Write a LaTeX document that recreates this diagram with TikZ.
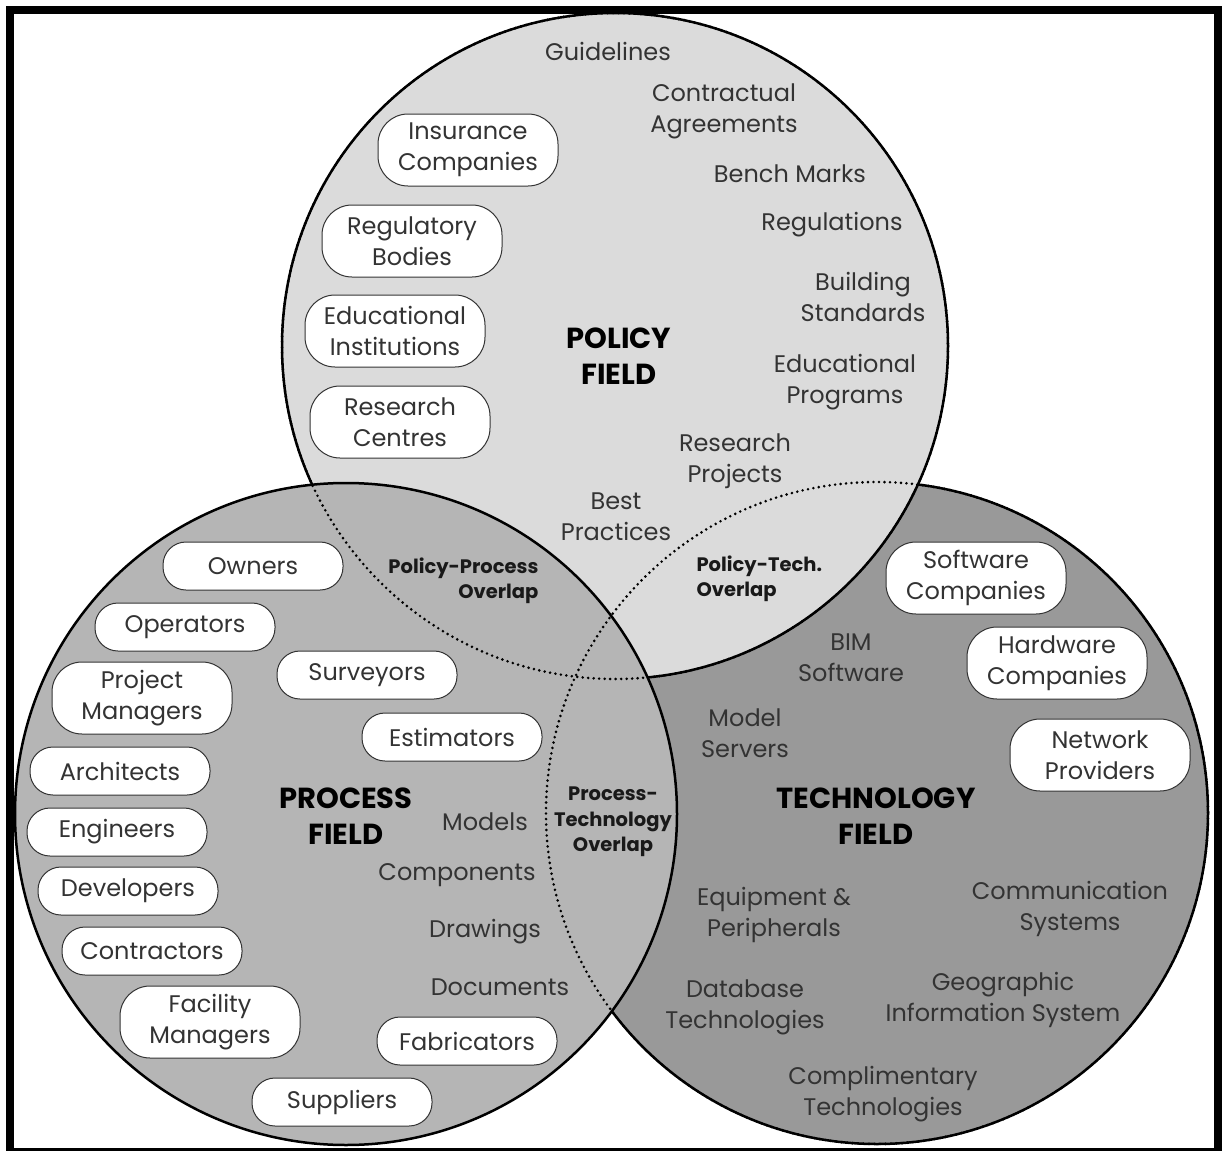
\documentclass[tikz,border=0pt]{standalone}
\usepackage{fontspec}
\setmainfont{Poppins}
\definecolor{policygray}{gray}{0.86}
\definecolor{processgray}{gray}{0.71}
\definecolor{techgray}{gray}{0.6}
\definecolor{inkgray}{gray}{0.2}

\begin{document}
\begin{tikzpicture}[x=1pt,y=-1pt,
  ring/.style={line width=2.5pt},
  seam/.style={line width=2.9pt,line cap=round,dash pattern=on 0pt off 5.5pt},
  actor/.style={draw=inkgray,fill=white,line width=1pt,rounded corners=23pt,
    minimum width=180pt,minimum height=48pt,inner sep=2pt,align=center,
    text=inkgray,font=\fontsize{24}{31}\selectfont},
  topic/.style={align=center,text=inkgray,font=\fontsize{24}{31}\selectfont},
  field/.style={align=center,font=\bfseries\fontsize{29}{36}\selectfont},
  overlap/.style={text=black!90,font=\bfseries\fontsize{19.5}{25.5}\selectfont}]
\useasboundingbox (0,0) rectangle (1227,1151);

\coordinate (tech) at (877,813);
\coordinate (pol) at (615,346);
\coordinate (proc) at (346,814);

\filldraw[ring,fill=techgray] (tech) circle[radius=331];
\filldraw[ring,fill=policygray] (pol) circle[radius=333];
\filldraw[ring,fill=processgray] (proc) circle[radius=331];
\draw[seam] (pol) circle[radius=333];
\draw[seam] (tech) circle[radius=331];

\draw[line width=8pt] (10,10) rectangle (1218,1152);

\node[field] (polfield) at (619,356) {POLICY\\FIELD};
\node[field] (procfield) at (346,816) {PROCESS\\FIELD};
\node[field] (techfield) at (876,816) {TECHNOLOGY\\FIELD};

\node[overlap,align=right,anchor=east] (polproc) at (542,581) {Policy-Process\\Overlap};
\node[overlap,align=left,anchor=west] (poltech) at (693,579) {Policy-Tech.\\Overlap};
\node[overlap,align=center] (proctech) at (613,822) {Process-\\Technology\\Overlap};

\foreach \n/\p/\t in {insur/{468,150}/{Insurance\\Companies},
    regul/{412,241}/{Regulatory\\Bodies},
    educ/{395,331}/{Educational\\Institutions},
    resc/{400,422}/{Research\\Centres}}
  \node[actor,minimum height=72pt,rounded corners=30pt] (\n) at (\p) {\t};

\foreach \n/\p/\t in {owner/{253,566}/Owners, oper/{185,627}/Operators,
    surv/{367,675}/Surveyors, estim/{452,737}/Estimators,
    arch/{120,771}/Architects, engin/{117,832}/Engineers,
    devel/{128,891}/Developers, contr/{152,951}/Contractors,
    fabr/{467,1041}/Fabricators, suppl/{342,1102}/Suppliers}
  \node[actor] (\n) at (\p) {\t};

\foreach \n/\p/\t in {projm/{142,698}/{Project\\Managers},
    facil/{210,1022}/{Facility\\Managers},
    softw/{976,578}/{Software\\Companies},
    hardw/{1057,663}/{Hardware\\Companies},
    netw/{1100,755}/{Network\\Providers}}
  \node[actor,minimum height=72pt,rounded corners=30pt] (\n) at (\p) {\t};

\node[topic] (guide) at (608,51) {Guidelines};
\node[topic] (contr) at (724,111) {Contractual\\Agreements};
\node[topic] (bench) at (790,174) {Bench Marks};
\node[topic] (regs) at (832,225) {Regulations};
\node[topic] (build) at (863,297) {Building\\Standards};
\node[topic] (eprog) at (845,382) {Educational\\Programs};
\node[topic] (rproj) at (735,461) {Research\\Projects};
\node[topic] (best) at (616,517) {Best\\Practices};

\node[topic] (models) at (485,822) {Models};
\node[topic] (comps) at (457,875) {Components};
\node[topic] (draws) at (485,932) {Drawings};
\node[topic] (docs) at (500,987) {Documents};

\node[topic] (bim) at (851,658) {BIM\\Software};
\node[topic] (servers) at (745,733) {Model\\Servers};
\node[topic] (equip) at (774,915) {Equipment \&\\Peripherals};
\node[topic] (comm) at (1070,909) {Communication\\Systems};
\node[topic] (datab) at (745,1007) {Database\\Technologies};
\node[topic] (geo) at (1003,1000) {Geographic\\Information System};
\node[topic] (compl) at (883,1094) {Complimentary\\Technologies};

\end{tikzpicture}
\end{document}
